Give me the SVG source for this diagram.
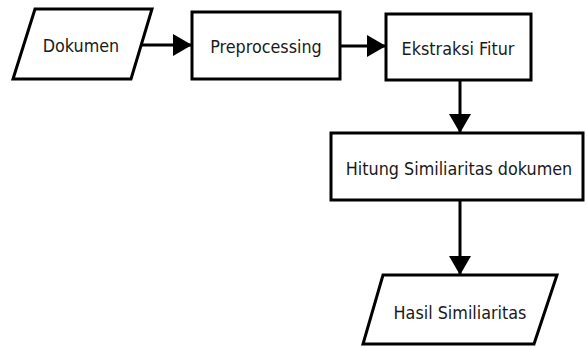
<svg xmlns="http://www.w3.org/2000/svg" width="587" height="347" viewBox="0 0 587 347">
<defs>
<marker id="ah" markerWidth="19" markerHeight="22" refX="19" refY="11" orient="auto" markerUnits="userSpaceOnUse">
<path d="M0,0 L19,11 L0,22 Z" fill="#000"/>
</marker>
<style>
.shape{fill:#fff;stroke:#000;stroke-width:3}
.lbl{font-family:"DejaVu Sans Condensed","DejaVu Sans",sans-serif;font-size:17.8px;fill:#1a1a1a;text-anchor:middle;dominant-baseline:central}
.conn{stroke:#000;stroke-width:3;fill:none}
</style>
</defs>
<rect width="587" height="347" fill="#fff"/>
<g id="connectors">
<path class="conn" d="M142,45 H192" marker-end="url(#ah)"/>
<path class="conn" d="M340,46 H386" marker-end="url(#ah)"/>
<path class="conn" d="M460,80 V133" marker-end="url(#ah)"/>
<path class="conn" d="M460,200 V275" marker-end="url(#ah)"/>
</g>
<g id="dokumen">
<polygon class="shape" points="35,9 152,9 131,79 13,79"/>
<text class="lbl" x="81" y="45">Dokumen</text>
</g>
<g id="preprocessing">
<rect class="shape" x="192" y="12" width="148" height="67"/>
<text class="lbl" x="266" y="46">Preprocessing</text>
</g>
<g id="ekstraksi">
<rect class="shape" x="386" y="14" width="145" height="66"/>
<text class="lbl" x="458" y="48">Ekstraksi Fitur</text>
</g>
<g id="hitung">
<rect class="shape" x="331" y="133" width="252" height="67"/>
<text class="lbl" x="459" y="168">Hitung Similiaritas dokumen</text>
</g>
<g id="hasil">
<polygon class="shape" points="383,275 557,275 534,344 363,344"/>
<text class="lbl" x="460" y="312">Hasil Similiaritas</text>
</g>
</svg>
